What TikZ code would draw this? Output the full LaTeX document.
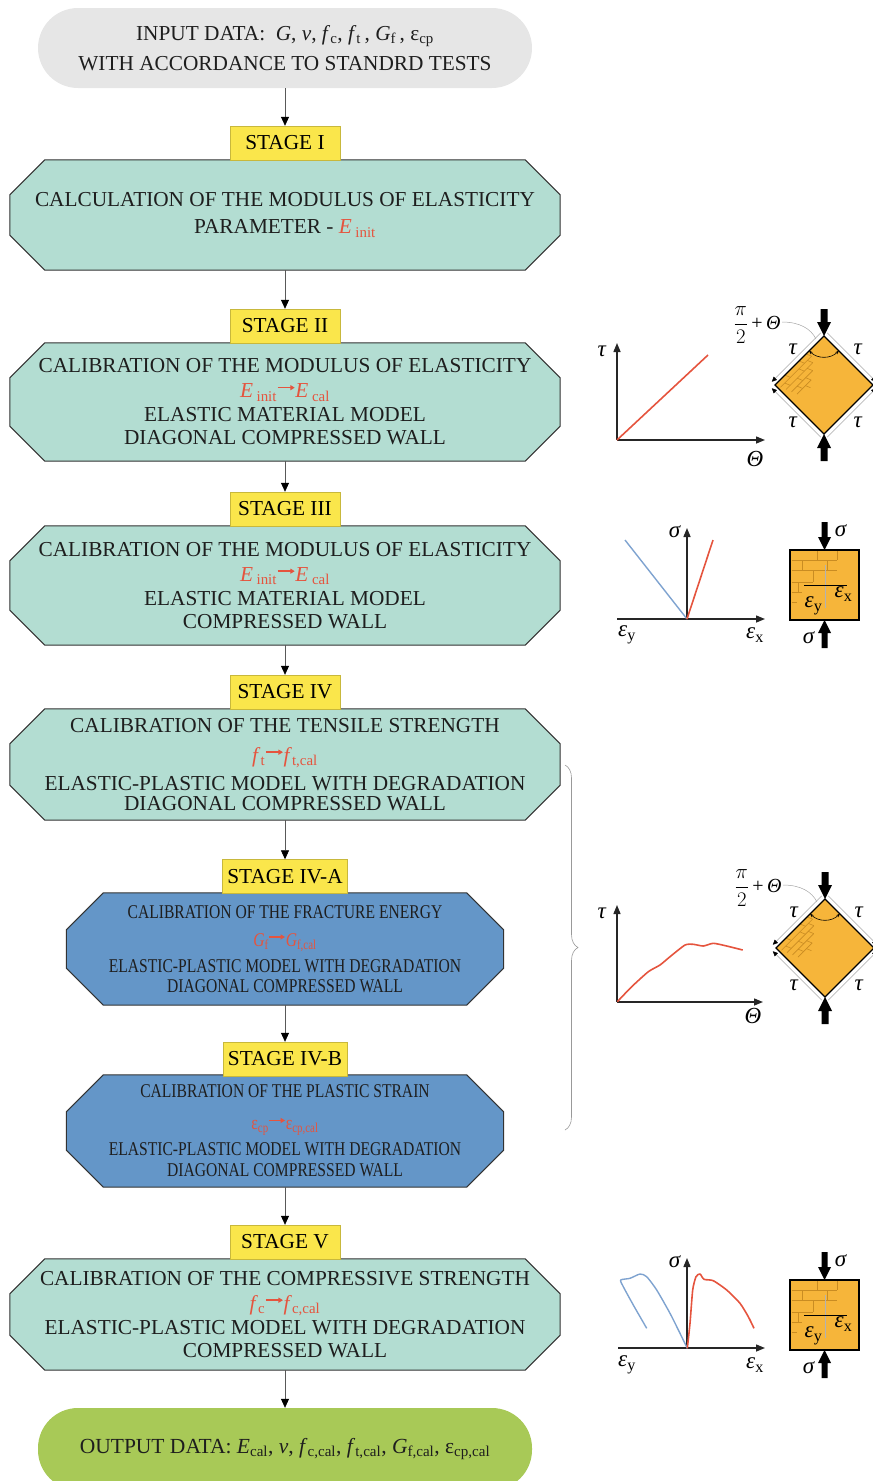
\documentclass[tikz,border=0pt]{standalone}
\usepackage{fontspec}
\setmainfont{Liberation Serif}
\newfontfamily\narrowserif[FakeStretch=0.8]{Liberation Serif}
\usetikzlibrary{arrows.meta,decorations.pathreplacing,backgrounds}

\definecolor{inputgray}{HTML}{E6E6E6}
\definecolor{tealfill}{HTML}{B3DDD2}
\definecolor{bluefill}{HTML}{6496C8}
\definecolor{stageyellow}{HTML}{FAE64B}
\definecolor{outgreen}{HTML}{A8C957}
\definecolor{calred}{HTML}{E5543E}
\definecolor{wallorange}{HTML}{F6B53A}
\definecolor{brickline}{HTML}{C98C22}
\definecolor{strainblue}{HTML}{7FA3D0}
\definecolor{textdark}{HTML}{1E1E1E}

\newcommand\mainsize{\fontsize{21.3}{24}\selectfont}
\newcommand\smallbody{\narrowserif\fontsize{19.5}{22}\selectfont}
\newcommand\graphsize{\fontsize{23}{26}\selectfont}
\newcommand\vi[1]{\textit{#1}}
\newcommand\sbs[1]{\textsubscript{#1}}
\newcommand\calarrow{\tikz[baseline=0pt]\draw[line width=1.4pt,-{Triangle[length=4.5pt,width=5pt]}] (0pt,0.48em)--(0.8em,0.48em);}
\newcommand\calib[2]{{\color{calred}#1\calarrow#2}}

% octagonal outline drawn behind a body node
\newcommand\octagon[3]{%
  \begin{pgfonlayer}{background}
  \path[#3] ([xshift=#2]#1.north west) -- ([xshift=-#2]#1.north east)
    -- ([yshift=-#2]#1.north east) -- ([yshift=#2]#1.south east)
    -- ([xshift=-#2]#1.south east) -- ([xshift=#2]#1.south west)
    -- ([yshift=#2]#1.south west) -- ([yshift=-#2]#1.north west) -- cycle;
  \end{pgfonlayer}}

% diagonally compressed wall panel (#1 name prefix, #2/#3 centre)
\newcommand\shearwall[3]{%
  \begin{scope}[shift={(#2,#3)}]
    \fill[wallorange] (0,-49) -- (49,0) -- (0,49) -- (-49,0) -- cycle;
    \begin{scope}
      \clip (0,-49) -- (49,0) -- (0,49) -- (-49,0) -- cycle;
      \begin{scope}[shift={(-49,0)}, x={(0.7071,-0.7071)}, y={(0.7071,0.7071)}, brick]
        \draw (0,11) -- (44,11) (0,22) -- (38,22) (0,33) -- (30,33) (0,44) -- (20,44);
        \draw (14,0) -- (14,11) (34,0) -- (34,11) (6,11) -- (6,22) (26,11) -- (26,22)
              (16,22) -- (16,33) (8,33) -- (8,44) (44,0) -- (44,11) (38,11) -- (38,22)
              (30,22) -- (30,33) (20,33) -- (20,44) (12,44) -- (12,54);
      \end{scope}
    \end{scope}
    \draw[line width=1.3pt] (0,-49) -- (49,0) -- (0,49) -- (-49,0) -- cycle;
    \draw[shearline] (-3.2,-52.2) -- (-52.2,-3.2);
    \draw[shearline] (-3.2,52.2) -- (-52.2,3.2);
    \draw[shearline] (3.2,-52.2) -- (52.2,-3.2);
    \draw[shearline] (3.2,52.2) -- (52.2,3.2);
    \fill (-3.5,-76) -- (3.5,-76) -- (3.5,-63) -- (7,-63) -- (0,-49) -- (-7,-63) -- (-3.5,-63) -- cycle;
    \fill (-3.5,76) -- (3.5,76) -- (3.5,63) -- (7,63) -- (0,49) -- (-7,63) -- (-3.5,63) -- cycle;
    \draw[line width=0.6pt, {Stealth[length=3.5pt,width=3pt]}-{Stealth[length=3.5pt,width=3pt]}]
      (-14.8,-34.2) .. controls (-6.6,-26) and (6.6,-26) .. (14.8,-34.2);
    \node[glabel] (#1t1) at (-31,-36) {\vi{τ}};
    \node[glabel] (#1t2) at (34,-36) {\vi{τ}};
    \node[glabel] (#1t3) at (-31,37) {\vi{τ}};
    \node[glabel] (#1t4) at (34,37) {\vi{τ}};
    \node[glabel, font=\fontsize{20}{22}\selectfont] (#1ang) at (-67,-60)
      {$\displaystyle\frac{\pi}{2}$\,+\,\vi{Θ}};
    \draw[gray!70, line width=0.5pt] (-42,-63) .. controls (-24,-63) and (-13,-56) .. (-8,-46);
  \end{scope}}

% axially compressed wall panel (#1 name prefix, #2/#3 centre)
\newcommand\compwall[3]{%
  \begin{scope}[shift={(#2,#3)}]
    \fill[wallorange] (-34.5,-35) rectangle (34.5,35);
    \draw[brick] (-33,-25) -- (12.5,-25) (-33,-15) -- (12.5,-15) (-33,-3) -- (-11.5,-3)
                 (-33,7) -- (-22.5,7) (-33,17) -- (-27.5,17);
    \draw[brick] (-7.5,-35) -- (-7.5,-25) (-22.5,-25) -- (-22.5,-15) (2.5,-25) -- (2.5,-15)
                 (-11.5,-15) -- (-11.5,-3) (-26.5,-3) -- (-26.5,7) (12.5,-35) -- (12.5,-25);
    \draw[line width=1.3pt] (-34.5,-35) rectangle (34.5,35);
    \draw[gray!60, line width=0.8pt] (0.5,-20) -- (0.5,23);
    \draw[line width=1pt] (-20.5,0) -- (22.5,0);
    \fill (-3,-63) -- (3,-63) -- (3,-48) -- (6.5,-48) -- (0,-35) -- (-6.5,-48) -- (-3,-48) -- cycle;
    \fill (-3,63) -- (3,63) -- (3,48) -- (6.5,48) -- (0,35) -- (-6.5,48) -- (-3,48) -- cycle;
    \node[glabel] (#1s1) at (16.5,-54) {\vi{σ}};
    \node[glabel] (#1s2) at (-15.5,53) {\vi{σ}};
    \node[glabel] (#1ex) at (19,9) {\vi{ε}\sbs{x}};
    \node[glabel] (#1ey) at (-11,21) {\vi{ε}\sbs{y}};
  \end{scope}}

\begin{document}
\begin{tikzpicture}[x=1pt, y=-1pt,
  pill/.style={minimum width=494pt, rounded corners=40pt, align=center,
    font=\mainsize, inner sep=0pt, text=textdark},
  stagelabel/.style={fill=stageyellow, draw=stageyellow!80!black, line width=0.4pt,
    minimum width=110pt, minimum height=34pt, inner xsep=5pt, inner ysep=0pt,
    font=\mainsize, text=black},
  body/.style={minimum width=550pt, inner sep=0pt, align=center, font=\mainsize, text=textdark},
  smallbodynode/.style={minimum width=437pt, inner sep=0pt, align=center, font=\smallbody, text=textdark},
  tealoct/.style={fill=tealfill, draw=black!80, line width=1pt},
  blueoct/.style={fill=bluefill, draw=black!80, line width=1pt},
  flow/.style={draw=black!65, line width=0.7pt, -{Triangle[length=9pt,width=8pt,color=black]}},
  axis/.style={line width=1.4pt, draw=black!85, -{Triangle[length=9pt,width=7pt]}},
  redcurve/.style={calred, line width=1.6pt, line join=round},
  bluecurve/.style={strainblue, line width=1.4pt, line join=round},
  glabel/.style={inner sep=0pt, font=\graphsize},
  brick/.style={brickline, line width=0.6pt},
  shearline/.style={draw=gray!55, line width=0.6pt, -{Triangle[length=5pt,width=4.5pt,color=black]}}
]
\useasboundingbox (0,0) rectangle (873,1481);

% ---------- flow chart ----------
\node[pill, fill=inputgray, minimum height=80pt] (input) at (285,48)
  {INPUT DATA:\ \ \vi{G}, \vi{v}, \vi{f}\sbs{c}, \vi{f}\sbs{t}\,, \vi{G}\sbs{f}\,, ε\sbs{cp}\\[6pt]
   WITH ACCORDANCE TO STANDRD TESTS};

\node[stagelabel] (lab1) at (285,143) {STAGE I};
\node[body, minimum height=110pt] (s1) at (285,215)
  {CALCULATION OF THE MODULUS OF ELASTICITY\\[3pt]
   PARAMETER - {\color{calred}\vi{E}\,\sbs{init}}};
\octagon{s1}{35pt}{tealoct}

\node[stagelabel] (lab2) at (285,326) {STAGE II};
\node[body, minimum height=118pt] (s2) at (285,402)
  {CALIBRATION OF THE MODULUS OF ELASTICITY\\[1pt]
   \calib{\vi{E}\,\sbs{init}}{\vi{E}\,\sbs{cal}}\\
   ELASTIC MATERIAL MODEL\\[-1pt]
   DIAGONAL COMPRESSED WALL};
\octagon{s2}{35pt}{tealoct}

\node[stagelabel] (lab3) at (285,509) {STAGE III};
\node[body, minimum height=119pt] (s3) at (285,585.5)
  {CALIBRATION OF THE MODULUS OF ELASTICITY\\[1pt]
   \calib{\vi{E}\,\sbs{init}}{\vi{E}\,\sbs{cal}}\\
   ELASTIC MATERIAL MODEL\\[-1pt]
   COMPRESSED WALL};
\octagon{s3}{35pt}{tealoct}

\node[stagelabel] (lab4) at (285,692) {STAGE IV};
\node[body, minimum height=111pt] (s4) at (285,764.5)
  {CALIBRATION OF THE TENSILE STRENGTH\\[6pt]
   \calib{\vi{f}\sbs{t}}{\vi{f}\sbs{t,cal}}\\[4pt]
   ELASTIC-PLASTIC MODEL WITH DEGRADATION\\[-4pt]
   DIAGONAL COMPRESSED WALL};
\octagon{s4}{35pt}{tealoct}

\node[stagelabel] (lab4a) at (285,876.5) {STAGE IV-A};
\node[smallbodynode, minimum height=112pt] (s4a) at (285,949)
  {CALIBRATION OF THE FRACTURE ENERGY\\[6pt]
   \calib{\vi{G}\sbs{f}}{\vi{G}\sbs{f,cal}}\\[4pt]
   ELASTIC-PLASTIC MODEL WITH DEGRADATION\\[-2pt]
   DIAGONAL COMPRESSED WALL};
\octagon{s4a}{37pt}{blueoct}

\node[stagelabel] (lab4b) at (285,1059) {STAGE IV-B};
\node[smallbodynode, minimum height=112pt] (s4b) at (285,1131)
  {CALIBRATION OF THE PLASTIC STRAIN\\[10pt]
   \calib{ε\sbs{cp}}{ε\sbs{cp,cal}}\\[4pt]
   ELASTIC-PLASTIC MODEL WITH DEGRADATION\\[-1pt]
   DIAGONAL COMPRESSED WALL};
\octagon{s4b}{37pt}{blueoct}

\node[stagelabel] (lab5) at (285,1242) {STAGE V};
\node[body, minimum height=111pt] (s5) at (285,1314.5)
  {CALIBRATION OF THE COMPRESSIVE STRENGTH\\[1pt]
   \calib{\vi{f}\sbs{c}}{\vi{f}\sbs{c,cal}}\\
   ELASTIC-PLASTIC MODEL WITH DEGRADATION\\[-1pt]
   COMPRESSED WALL};
\octagon{s5}{35pt}{tealoct}

\node[pill, fill=outgreen, minimum height=82pt, font=\fontsize{21.5}{24}\selectfont] (output) at (285,1449)
  {OUTPUT DATA: \vi{E}\sbs{cal}, \vi{v}, \vi{f}\sbs{c,cal}, \vi{f}\sbs{t,cal}, \vi{G}\sbs{f,cal}, ε\sbs{cp,cal}};

\draw[flow] (input.south) -- (lab1.north);
\draw[flow] (s1.south) -- (lab2.north);
\draw[flow] (s2.south) -- (lab3.north);
\draw[flow] (s3.south) -- (lab4.north);
\draw[flow] (s4.south) -- (lab4a.north);
\draw[flow] (s4a.south) -- (lab4b.north);
\draw[flow] (s4b.south) -- (lab5.north);
\draw[flow] (s5.south) -- (output.north);

% brace grouping stage IV and its sub-stages
\coordinate (braceTop) at (565,765);
\coordinate (braceBot) at (565,1130);
\draw[gray!80, line width=0.6pt, decorate, decoration={brace, amplitude=13pt}] (braceTop) -- (braceBot);

% ---------- stage II: shear stress vs. angle ----------
\draw[axis] (617,440) -- (617,343);
\draw[axis] (617,440) -- (765,440);
\draw[redcurve] (617,440) -- (708,355);
\node[glabel] (tauA) at (602,351) {\vi{τ}};
\node[glabel] (thA) at (755,459) {\vi{Θ}};
\shearwall{wA}{824}{385}

% ---------- stage III: linear stress-strain ----------
\draw[axis] (687,619) -- (687,528);
\draw[axis] (617,619) -- (765,619);
\draw[bluecurve] (687,619) -- (625,540);
\draw[redcurve] (687,619) -- (713,540);
\node[glabel] (sigB) at (675,532) {\vi{σ}};
\node[glabel] (eyB) at (627,635) {\vi{ε}\sbs{y}};
\node[glabel] (exB) at (755,635) {\vi{ε}\sbs{x}};
\compwall{cB}{824.5}{585}

% ---------- stage IV-A: shear response with degradation ----------
\draw[axis] (617,1002) -- (617,905);
\draw[axis] (617,1002) -- (763,1002);
\draw[redcurve] plot[smooth, tension=0.35] coordinates {(617.3,1001.7) (631.7,986.7) (648.3,971.7) (660,965) (670,956.7) (685,945) (693.3,944.3) (703.3,946) (713.3,943.3) (726.7,946) (742.7,950)};
\node[glabel] (tauC) at (602,913) {\vi{τ}};
\node[glabel] (thC) at (753,1016) {\vi{Θ}};
\shearwall{wC}{825}{948}

% ---------- stage V: compressive stress-strain ----------
\draw[axis] (687,1348) -- (687,1258);
\draw[axis] (618,1348) -- (765,1348);
\draw[bluecurve] plot[smooth, tension=0.4] coordinates {(646.7,1328.3) (633.3,1305) (623.3,1286.7) (620.7,1280) (630,1278.3) (640,1274) (646.7,1276.7) (656.7,1290) (670,1313.3) (680,1333.3) (687.3,1348.3)};
\draw[redcurve] plot[smooth, tension=0.4] coordinates {(687.3,1348.3) (690,1323.3) (692.7,1290) (696,1276.7) (700,1274) (704,1279.3) (713.3,1280.7) (726.7,1290) (740,1303.3) (748.3,1316.7) (754,1328.3)};
\node[glabel] (sigD) at (675,1262) {\vi{σ}};
\node[glabel] (eyD) at (627,1365) {\vi{ε}\sbs{y}};
\node[glabel] (exD) at (755,1365) {\vi{ε}\sbs{x}};
\compwall{cD}{824.5}{1315}
\end{tikzpicture}
\end{document}
